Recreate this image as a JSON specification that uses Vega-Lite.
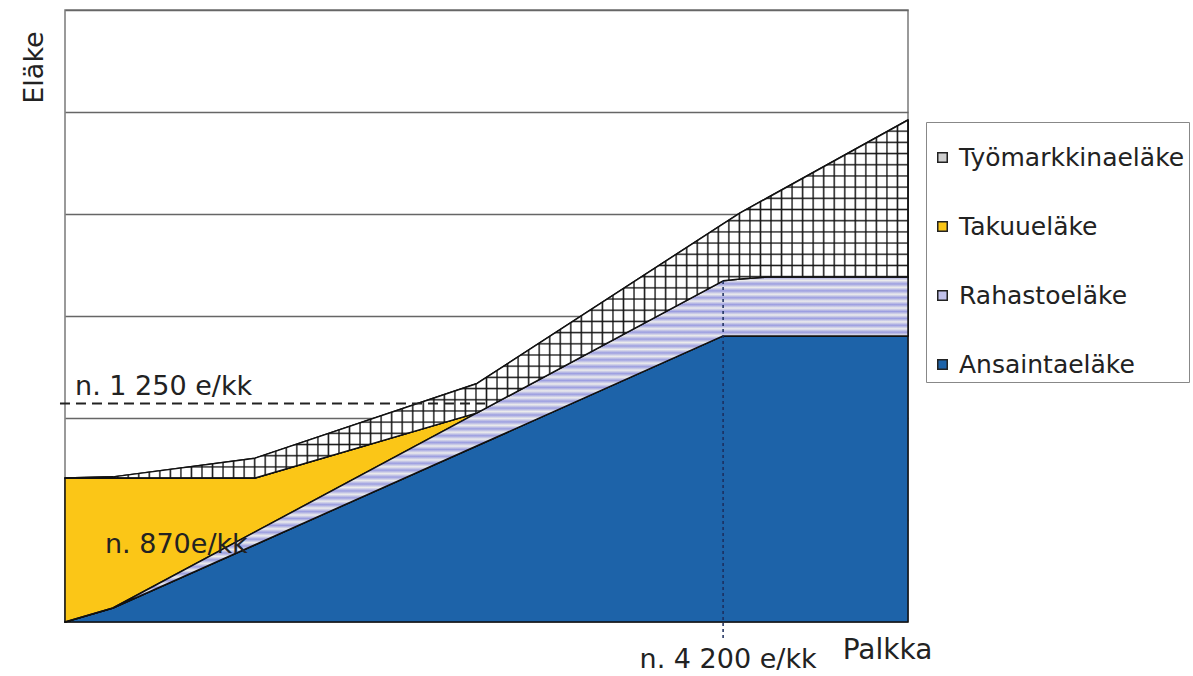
{
"$schema": "https://vega.github.io/schema/vega-lite/v6.json",
"width": 843,
"height": 612,
"autosize": {"type": "none"},
"padding": {"left": 65, "top": 10, "right": 285, "bottom": 54},
"background": "white",
"config": {"view": {"stroke": "#7a7a7a", "strokeWidth": 1.5}, "font": "DejaVu Sans"},
"datasets": {
"pension": [
{"palkka": 0, "laji": "Ansaintaeläke", "order": 1, "elake": 0},
{"palkka": 0, "laji": "Rahastoeläke", "order": 2, "elake": 0},
{"palkka": 0, "laji": "Takuueläke", "order": 3, "elake": 824},
{"palkka": 0, "laji": "Työmarkkinaeläke", "order": 4, "elake": 0},
{"palkka": 306, "laji": "Ansaintaeläke", "order": 1, "elake": 80},
{"palkka": 306, "laji": "Rahastoeläke", "order": 2, "elake": 0},
{"palkka": 306, "laji": "Takuueläke", "order": 3, "elake": 744},
{"palkka": 306, "laji": "Työmarkkinaeläke", "order": 4, "elake": 6},
{"palkka": 1213, "laji": "Ansaintaeläke", "order": 1, "elake": 442},
{"palkka": 1213, "laji": "Rahastoeläke", "order": 2, "elake": 73},
{"palkka": 1213, "laji": "Takuueläke", "order": 3, "elake": 308},
{"palkka": 1213, "laji": "Työmarkkinaeläke", "order": 4, "elake": 114},
{"palkka": 2630, "laji": "Ansaintaeläke", "order": 1, "elake": 1008},
{"palkka": 2630, "laji": "Rahastoeläke", "order": 2, "elake": 188},
{"palkka": 2630, "laji": "Takuueläke", "order": 3, "elake": 0},
{"palkka": 2630, "laji": "Työmarkkinaeläke", "order": 4, "elake": 168},
{"palkka": 4200, "laji": "Ansaintaeläke", "order": 1, "elake": 1636},
{"palkka": 4200, "laji": "Rahastoeläke", "order": 2, "elake": 315},
{"palkka": 4200, "laji": "Takuueläke", "order": 3, "elake": 0},
{"palkka": 4200, "laji": "Työmarkkinaeläke", "order": 4, "elake": 326},
{"palkka": 4309, "laji": "Ansaintaeläke", "order": 1, "elake": 1636},
{"palkka": 4309, "laji": "Rahastoeläke", "order": 2, "elake": 326},
{"palkka": 4309, "laji": "Takuueläke", "order": 3, "elake": 0},
{"palkka": 4309, "laji": "Työmarkkinaeläke", "order": 4, "elake": 378},
{"palkka": 4481, "laji": "Ansaintaeläke", "order": 1, "elake": 1636},
{"palkka": 4481, "laji": "Rahastoeläke", "order": 2, "elake": 337},
{"palkka": 4481, "laji": "Takuueläke", "order": 3, "elake": 0},
{"palkka": 4481, "laji": "Työmarkkinaeläke", "order": 4, "elake": 452},
{"palkka": 5380, "laji": "Ansaintaeläke", "order": 1, "elake": 1636},
{"palkka": 5380, "laji": "Rahastoeläke", "order": 2, "elake": 337},
{"palkka": 5380, "laji": "Takuueläke", "order": 3, "elake": 0},
{"palkka": 5380, "laji": "Työmarkkinaeläke", "order": 4, "elake": 898}
]
},
"layer": [
{
"data": {"name": "pension"},
"transform": [{"stack": "elake", "groupby": ["palkka"], "sort": [{"field": "order", "order": "ascending"}], "as": ["lo", "hi"]}],
"mark": {"type": "area", "stroke": "#111", "strokeWidth": 1.5, "strokeJoin": "round", "fillOpacity": 1},
"encoding": {
"x": {"field": "palkka", "type": "quantitative", "title": "Palkka", "scale": {"domain": [0, 5380], "nice": false, "zero": false},
"axis": {"labels": false, "ticks": false, "domain": false, "grid": false, "titleFont": "DejaVu Sans", "titleFontSize": 28, "titleFontWeight": "normal", "titleColor": "#222", "titleX": 822, "titleY": 36, "titleAlign": "center", "titleBaseline": "alphabetic"}},
"y": {"field": "hi", "type": "quantitative", "title": "Eläke", "scale": {"domain": [0, 3500], "nice": false},
"axis": {"labels": false, "ticks": false, "domain": false, "grid": true, "values": [583.33, 1166.67, 1750, 2333.33, 2916.67, 3500], "gridColor": "#666", "gridWidth": 1.5, "titleFont": "DejaVu Sans", "titleFontSize": 27, "titleFontWeight": "normal", "titleColor": "#222", "titleX": -31, "titleY": 57, "titleAngle": 270, "titleAlign": "center", "titleBaseline": "middle"}},
"y2": {"field": "lo"},
"color": {"field": "laji", "type": "nominal",
"scale": {"domain": ["Työmarkkinaeläke", "Takuueläke", "Rahastoeläke", "Ansaintaeläke"], "range": ["#cfcfcf", "#fbc617", "#c2c2ec", "#1d63a9"]},
"legend": {"title": " ", "titleFontSize": 15, "titlePadding": 4, "orient": "none", "legendX": 861, "legendY": 112, "padding": 4, "strokeColor": "#888", "fillColor": "white", "labelFont": "DejaVu Sans", "labelFontSize": 25, "labelColor": "#222", "labelLimit": 400, "symbolType": "square", "symbolSize": 90, "symbolStrokeColor": "#222", "symbolStrokeWidth": 1.5, "symbolOpacity": 1, "rowPadding": 43, "labelOffset": 4}}
}
},
{
"data": {"name": "pension"},
"transform": [{"stack": "elake", "groupby": ["palkka"], "sort": [{"field": "order", "order": "ascending"}], "as": ["lo", "hi"]}, {"filter": {"field": "laji", "equal": "Rahastoeläke"}}],
"mark": {"type": "area", "stroke": "#111", "strokeWidth": 1.5, "strokeJoin": "round",
"fill": {"gradient": "linear", "x1": 0, "y1": 0, "x2": 0, "y2": 1, "stops": [
{"offset":0,"color":"#9c9ee0"},{"offset":0.01,"color":"#ececec"},{"offset":0.02,"color":"#9c9ee0"},{"offset":0.03,"color":"#ececec"},{"offset":0.04,"color":"#9c9ee0"},{"offset":0.05,"color":"#ececec"},{"offset":0.06,"color":"#9c9ee0"},{"offset":0.07,"color":"#ececec"},{"offset":0.08,"color":"#9c9ee0"},{"offset":0.09,"color":"#ececec"},
{"offset":0.1,"color":"#9c9ee0"},{"offset":0.11,"color":"#ececec"},{"offset":0.12,"color":"#9c9ee0"},{"offset":0.13,"color":"#ececec"},{"offset":0.14,"color":"#9c9ee0"},{"offset":0.15,"color":"#ececec"},{"offset":0.16,"color":"#9c9ee0"},{"offset":0.17,"color":"#ececec"},{"offset":0.18,"color":"#9c9ee0"},{"offset":0.19,"color":"#ececec"},
{"offset":0.2,"color":"#9c9ee0"},{"offset":0.21,"color":"#ececec"},{"offset":0.22,"color":"#9c9ee0"},{"offset":0.23,"color":"#ececec"},{"offset":0.24,"color":"#9c9ee0"},{"offset":0.25,"color":"#ececec"},{"offset":0.26,"color":"#9c9ee0"},{"offset":0.27,"color":"#ececec"},{"offset":0.28,"color":"#9c9ee0"},{"offset":0.29,"color":"#ececec"},
{"offset":0.3,"color":"#9c9ee0"},{"offset":0.31,"color":"#ececec"},{"offset":0.32,"color":"#9c9ee0"},{"offset":0.33,"color":"#ececec"},{"offset":0.34,"color":"#9c9ee0"},{"offset":0.35,"color":"#ececec"},{"offset":0.36,"color":"#9c9ee0"},{"offset":0.37,"color":"#ececec"},{"offset":0.38,"color":"#9c9ee0"},{"offset":0.39,"color":"#ececec"},
{"offset":0.4,"color":"#9c9ee0"},{"offset":0.41,"color":"#ececec"},{"offset":0.42,"color":"#9c9ee0"},{"offset":0.43,"color":"#ececec"},{"offset":0.44,"color":"#9c9ee0"},{"offset":0.45,"color":"#ececec"},{"offset":0.46,"color":"#9c9ee0"},{"offset":0.47,"color":"#ececec"},{"offset":0.48,"color":"#9c9ee0"},{"offset":0.49,"color":"#ececec"},
{"offset":0.5,"color":"#9c9ee0"},{"offset":0.51,"color":"#ececec"},{"offset":0.52,"color":"#9c9ee0"},{"offset":0.53,"color":"#ececec"},{"offset":0.54,"color":"#9c9ee0"},{"offset":0.55,"color":"#ececec"},{"offset":0.56,"color":"#9c9ee0"},{"offset":0.57,"color":"#ececec"},{"offset":0.58,"color":"#9c9ee0"},{"offset":0.59,"color":"#ececec"},
{"offset":0.6,"color":"#9c9ee0"},{"offset":0.61,"color":"#ececec"},{"offset":0.62,"color":"#9c9ee0"},{"offset":0.63,"color":"#ececec"},{"offset":0.64,"color":"#9c9ee0"},{"offset":0.65,"color":"#ececec"},{"offset":0.66,"color":"#9c9ee0"},{"offset":0.67,"color":"#ececec"},{"offset":0.68,"color":"#9c9ee0"},{"offset":0.69,"color":"#ececec"},
{"offset":0.7,"color":"#9c9ee0"},{"offset":0.71,"color":"#ececec"},{"offset":0.72,"color":"#9c9ee0"},{"offset":0.73,"color":"#ececec"},{"offset":0.74,"color":"#9c9ee0"},{"offset":0.75,"color":"#ececec"},{"offset":0.76,"color":"#9c9ee0"},{"offset":0.77,"color":"#ececec"},{"offset":0.78,"color":"#9c9ee0"},{"offset":0.79,"color":"#ececec"},
{"offset":0.8,"color":"#9c9ee0"},{"offset":0.81,"color":"#ececec"},{"offset":0.82,"color":"#9c9ee0"},{"offset":0.83,"color":"#ececec"},{"offset":0.84,"color":"#9c9ee0"},{"offset":0.85,"color":"#ececec"},{"offset":0.86,"color":"#9c9ee0"},{"offset":0.87,"color":"#ececec"},{"offset":0.88,"color":"#9c9ee0"},{"offset":0.89,"color":"#ececec"},
{"offset":0.9,"color":"#9c9ee0"},{"offset":0.91,"color":"#ececec"},{"offset":0.92,"color":"#9c9ee0"},{"offset":0.93,"color":"#ececec"},{"offset":0.94,"color":"#9c9ee0"},{"offset":0.95,"color":"#ececec"},{"offset":0.96,"color":"#9c9ee0"},{"offset":0.97,"color":"#ececec"},{"offset":0.98,"color":"#9c9ee0"},{"offset":0.99,"color":"#ececec"},
{"offset":1,"color":"#9c9ee0"}
]}},
"encoding": {
"x": {"field": "palkka", "type": "quantitative", "title": "Palkka", "scale": {"domain": [0, 5380], "nice": false, "zero": false}},
"y": {"field": "hi", "type": "quantitative", "title": "Eläke", "scale": {"domain": [0, 3500], "nice": false}},
"y2": {"field": "lo"}
}
},
{
"data": {"name": "pension"},
"transform": [{"stack": "elake", "groupby": ["palkka"], "sort": [{"field": "order", "order": "ascending"}], "as": ["lo", "hi"]}, {"filter": {"field": "laji", "equal": "Työmarkkinaeläke"}}],
"mark": {"type": "area", "strokeWidth": 0,
"fill": {"gradient": "linear", "x1": 0, "y1": 0, "x2": 0, "y2": 1, "stops": [
{"offset":0,"color":"#1a1a1a"},{"offset":0.004,"color":"#fff"},
{"offset":0.02725,"color":"#fff"},{"offset":0.03125,"color":"#1a1a1a"},{"offset":0.03525,"color":"#fff"},
{"offset":0.0585,"color":"#fff"},{"offset":0.0625,"color":"#1a1a1a"},{"offset":0.0665,"color":"#fff"},
{"offset":0.08975,"color":"#fff"},{"offset":0.09375,"color":"#1a1a1a"},{"offset":0.09775,"color":"#fff"},
{"offset":0.121,"color":"#fff"},{"offset":0.125,"color":"#1a1a1a"},{"offset":0.129,"color":"#fff"},
{"offset":0.15225,"color":"#fff"},{"offset":0.15625,"color":"#1a1a1a"},{"offset":0.16025,"color":"#fff"},
{"offset":0.1835,"color":"#fff"},{"offset":0.1875,"color":"#1a1a1a"},{"offset":0.1915,"color":"#fff"},
{"offset":0.21475,"color":"#fff"},{"offset":0.21875,"color":"#1a1a1a"},{"offset":0.22275,"color":"#fff"},
{"offset":0.246,"color":"#fff"},{"offset":0.25,"color":"#1a1a1a"},{"offset":0.254,"color":"#fff"},
{"offset":0.27725,"color":"#fff"},{"offset":0.28125,"color":"#1a1a1a"},{"offset":0.28525,"color":"#fff"},
{"offset":0.3085,"color":"#fff"},{"offset":0.3125,"color":"#1a1a1a"},{"offset":0.3165,"color":"#fff"},
{"offset":0.33975,"color":"#fff"},{"offset":0.34375,"color":"#1a1a1a"},{"offset":0.34775,"color":"#fff"},
{"offset":0.371,"color":"#fff"},{"offset":0.375,"color":"#1a1a1a"},{"offset":0.379,"color":"#fff"},
{"offset":0.40225,"color":"#fff"},{"offset":0.40625,"color":"#1a1a1a"},{"offset":0.41025,"color":"#fff"},
{"offset":0.4335,"color":"#fff"},{"offset":0.4375,"color":"#1a1a1a"},{"offset":0.4415,"color":"#fff"},
{"offset":0.46475,"color":"#fff"},{"offset":0.46875,"color":"#1a1a1a"},{"offset":0.47275,"color":"#fff"},
{"offset":0.496,"color":"#fff"},{"offset":0.5,"color":"#1a1a1a"},{"offset":0.504,"color":"#fff"},
{"offset":0.52725,"color":"#fff"},{"offset":0.53125,"color":"#1a1a1a"},{"offset":0.53525,"color":"#fff"},
{"offset":0.5585,"color":"#fff"},{"offset":0.5625,"color":"#1a1a1a"},{"offset":0.5665,"color":"#fff"},
{"offset":0.58975,"color":"#fff"},{"offset":0.59375,"color":"#1a1a1a"},{"offset":0.59775,"color":"#fff"},
{"offset":0.621,"color":"#fff"},{"offset":0.625,"color":"#1a1a1a"},{"offset":0.629,"color":"#fff"},
{"offset":0.65225,"color":"#fff"},{"offset":0.65625,"color":"#1a1a1a"},{"offset":0.66025,"color":"#fff"},
{"offset":0.6835,"color":"#fff"},{"offset":0.6875,"color":"#1a1a1a"},{"offset":0.6915,"color":"#fff"},
{"offset":0.71475,"color":"#fff"},{"offset":0.71875,"color":"#1a1a1a"},{"offset":0.72275,"color":"#fff"},
{"offset":0.746,"color":"#fff"},{"offset":0.75,"color":"#1a1a1a"},{"offset":0.754,"color":"#fff"},
{"offset":0.77725,"color":"#fff"},{"offset":0.78125,"color":"#1a1a1a"},{"offset":0.78525,"color":"#fff"},
{"offset":0.8085,"color":"#fff"},{"offset":0.8125,"color":"#1a1a1a"},{"offset":0.8165,"color":"#fff"},
{"offset":0.83975,"color":"#fff"},{"offset":0.84375,"color":"#1a1a1a"},{"offset":0.84775,"color":"#fff"},
{"offset":0.871,"color":"#fff"},{"offset":0.875,"color":"#1a1a1a"},{"offset":0.879,"color":"#fff"},
{"offset":0.90225,"color":"#fff"},{"offset":0.90625,"color":"#1a1a1a"},{"offset":0.91025,"color":"#fff"},
{"offset":0.9335,"color":"#fff"},{"offset":0.9375,"color":"#1a1a1a"},{"offset":0.9415,"color":"#fff"},
{"offset":0.96475,"color":"#fff"},{"offset":0.96875,"color":"#1a1a1a"},{"offset":0.97275,"color":"#fff"},
{"offset":0.996,"color":"#fff"},{"offset":1,"color":"#1a1a1a"}
]}},
"encoding": {
"x": {"field": "palkka", "type": "quantitative", "title": "Palkka", "scale": {"domain": [0, 5380], "nice": false, "zero": false}},
"y": {"field": "hi", "type": "quantitative", "title": "Eläke", "scale": {"domain": [0, 3500], "nice": false}},
"y2": {"field": "lo"}
}
},
{
"data": {"name": "pension"},
"transform": [{"stack": "elake", "groupby": ["palkka"], "sort": [{"field": "order", "order": "ascending"}], "as": ["lo", "hi"]}, {"filter": {"field": "laji", "equal": "Työmarkkinaeläke"}}],
"mark": {"type": "area", "stroke": "#111", "strokeWidth": 1.5, "strokeJoin": "round",
"fill": {"gradient": "linear", "x1": 0, "y1": 0, "x2": 1, "y2": 0, "stops": [
{"offset":0,"color":"#1a1a1a"},{"offset":0.0017,"color":"#0000"},
{"offset":0.0108,"color":"#0000"},{"offset":0.0125,"color":"#1a1a1a"},{"offset":0.0142,"color":"#0000"},
{"offset":0.0233,"color":"#0000"},{"offset":0.025,"color":"#1a1a1a"},{"offset":0.0267,"color":"#0000"},
{"offset":0.0358,"color":"#0000"},{"offset":0.0375,"color":"#1a1a1a"},{"offset":0.0392,"color":"#0000"},
{"offset":0.0483,"color":"#0000"},{"offset":0.05,"color":"#1a1a1a"},{"offset":0.0517,"color":"#0000"},
{"offset":0.0608,"color":"#0000"},{"offset":0.0625,"color":"#1a1a1a"},{"offset":0.0642,"color":"#0000"},
{"offset":0.0733,"color":"#0000"},{"offset":0.075,"color":"#1a1a1a"},{"offset":0.0767,"color":"#0000"},
{"offset":0.0858,"color":"#0000"},{"offset":0.0875,"color":"#1a1a1a"},{"offset":0.0892,"color":"#0000"},
{"offset":0.0983,"color":"#0000"},{"offset":0.1,"color":"#1a1a1a"},{"offset":0.1017,"color":"#0000"},
{"offset":0.1108,"color":"#0000"},{"offset":0.1125,"color":"#1a1a1a"},{"offset":0.1142,"color":"#0000"},
{"offset":0.1233,"color":"#0000"},{"offset":0.125,"color":"#1a1a1a"},{"offset":0.1267,"color":"#0000"},
{"offset":0.1358,"color":"#0000"},{"offset":0.1375,"color":"#1a1a1a"},{"offset":0.1392,"color":"#0000"},
{"offset":0.1483,"color":"#0000"},{"offset":0.15,"color":"#1a1a1a"},{"offset":0.1517,"color":"#0000"},
{"offset":0.1608,"color":"#0000"},{"offset":0.1625,"color":"#1a1a1a"},{"offset":0.1642,"color":"#0000"},
{"offset":0.1733,"color":"#0000"},{"offset":0.175,"color":"#1a1a1a"},{"offset":0.1767,"color":"#0000"},
{"offset":0.1858,"color":"#0000"},{"offset":0.1875,"color":"#1a1a1a"},{"offset":0.1892,"color":"#0000"},
{"offset":0.1983,"color":"#0000"},{"offset":0.2,"color":"#1a1a1a"},{"offset":0.2017,"color":"#0000"},
{"offset":0.2108,"color":"#0000"},{"offset":0.2125,"color":"#1a1a1a"},{"offset":0.2142,"color":"#0000"},
{"offset":0.2233,"color":"#0000"},{"offset":0.225,"color":"#1a1a1a"},{"offset":0.2267,"color":"#0000"},
{"offset":0.2358,"color":"#0000"},{"offset":0.2375,"color":"#1a1a1a"},{"offset":0.2392,"color":"#0000"},
{"offset":0.2483,"color":"#0000"},{"offset":0.25,"color":"#1a1a1a"},{"offset":0.2517,"color":"#0000"},
{"offset":0.2608,"color":"#0000"},{"offset":0.2625,"color":"#1a1a1a"},{"offset":0.2642,"color":"#0000"},
{"offset":0.2733,"color":"#0000"},{"offset":0.275,"color":"#1a1a1a"},{"offset":0.2767,"color":"#0000"},
{"offset":0.2858,"color":"#0000"},{"offset":0.2875,"color":"#1a1a1a"},{"offset":0.2892,"color":"#0000"},
{"offset":0.2983,"color":"#0000"},{"offset":0.3,"color":"#1a1a1a"},{"offset":0.3017,"color":"#0000"},
{"offset":0.3108,"color":"#0000"},{"offset":0.3125,"color":"#1a1a1a"},{"offset":0.3142,"color":"#0000"},
{"offset":0.3233,"color":"#0000"},{"offset":0.325,"color":"#1a1a1a"},{"offset":0.3267,"color":"#0000"},
{"offset":0.3358,"color":"#0000"},{"offset":0.3375,"color":"#1a1a1a"},{"offset":0.3392,"color":"#0000"},
{"offset":0.3483,"color":"#0000"},{"offset":0.35,"color":"#1a1a1a"},{"offset":0.3517,"color":"#0000"},
{"offset":0.3608,"color":"#0000"},{"offset":0.3625,"color":"#1a1a1a"},{"offset":0.3642,"color":"#0000"},
{"offset":0.3733,"color":"#0000"},{"offset":0.375,"color":"#1a1a1a"},{"offset":0.3767,"color":"#0000"},
{"offset":0.3858,"color":"#0000"},{"offset":0.3875,"color":"#1a1a1a"},{"offset":0.3892,"color":"#0000"},
{"offset":0.3983,"color":"#0000"},{"offset":0.4,"color":"#1a1a1a"},{"offset":0.4017,"color":"#0000"},
{"offset":0.4108,"color":"#0000"},{"offset":0.4125,"color":"#1a1a1a"},{"offset":0.4142,"color":"#0000"},
{"offset":0.4233,"color":"#0000"},{"offset":0.425,"color":"#1a1a1a"},{"offset":0.4267,"color":"#0000"},
{"offset":0.4358,"color":"#0000"},{"offset":0.4375,"color":"#1a1a1a"},{"offset":0.4392,"color":"#0000"},
{"offset":0.4483,"color":"#0000"},{"offset":0.45,"color":"#1a1a1a"},{"offset":0.4517,"color":"#0000"},
{"offset":0.4608,"color":"#0000"},{"offset":0.4625,"color":"#1a1a1a"},{"offset":0.4642,"color":"#0000"},
{"offset":0.4733,"color":"#0000"},{"offset":0.475,"color":"#1a1a1a"},{"offset":0.4767,"color":"#0000"},
{"offset":0.4858,"color":"#0000"},{"offset":0.4875,"color":"#1a1a1a"},{"offset":0.4892,"color":"#0000"},
{"offset":0.4983,"color":"#0000"},{"offset":0.5,"color":"#1a1a1a"},{"offset":0.5017,"color":"#0000"},
{"offset":0.5108,"color":"#0000"},{"offset":0.5125,"color":"#1a1a1a"},{"offset":0.5142,"color":"#0000"},
{"offset":0.5233,"color":"#0000"},{"offset":0.525,"color":"#1a1a1a"},{"offset":0.5267,"color":"#0000"},
{"offset":0.5358,"color":"#0000"},{"offset":0.5375,"color":"#1a1a1a"},{"offset":0.5392,"color":"#0000"},
{"offset":0.5483,"color":"#0000"},{"offset":0.55,"color":"#1a1a1a"},{"offset":0.5517,"color":"#0000"},
{"offset":0.5608,"color":"#0000"},{"offset":0.5625,"color":"#1a1a1a"},{"offset":0.5642,"color":"#0000"},
{"offset":0.5733,"color":"#0000"},{"offset":0.575,"color":"#1a1a1a"},{"offset":0.5767,"color":"#0000"},
{"offset":0.5858,"color":"#0000"},{"offset":0.5875,"color":"#1a1a1a"},{"offset":0.5892,"color":"#0000"},
{"offset":0.5983,"color":"#0000"},{"offset":0.6,"color":"#1a1a1a"},{"offset":0.6017,"color":"#0000"},
{"offset":0.6108,"color":"#0000"},{"offset":0.6125,"color":"#1a1a1a"},{"offset":0.6142,"color":"#0000"},
{"offset":0.6233,"color":"#0000"},{"offset":0.625,"color":"#1a1a1a"},{"offset":0.6267,"color":"#0000"},
{"offset":0.6358,"color":"#0000"},{"offset":0.6375,"color":"#1a1a1a"},{"offset":0.6392,"color":"#0000"},
{"offset":0.6483,"color":"#0000"},{"offset":0.65,"color":"#1a1a1a"},{"offset":0.6517,"color":"#0000"},
{"offset":0.6608,"color":"#0000"},{"offset":0.6625,"color":"#1a1a1a"},{"offset":0.6642,"color":"#0000"},
{"offset":0.6733,"color":"#0000"},{"offset":0.675,"color":"#1a1a1a"},{"offset":0.6767,"color":"#0000"},
{"offset":0.6858,"color":"#0000"},{"offset":0.6875,"color":"#1a1a1a"},{"offset":0.6892,"color":"#0000"},
{"offset":0.6983,"color":"#0000"},{"offset":0.7,"color":"#1a1a1a"},{"offset":0.7017,"color":"#0000"},
{"offset":0.7108,"color":"#0000"},{"offset":0.7125,"color":"#1a1a1a"},{"offset":0.7142,"color":"#0000"},
{"offset":0.7233,"color":"#0000"},{"offset":0.725,"color":"#1a1a1a"},{"offset":0.7267,"color":"#0000"},
{"offset":0.7358,"color":"#0000"},{"offset":0.7375,"color":"#1a1a1a"},{"offset":0.7392,"color":"#0000"},
{"offset":0.7483,"color":"#0000"},{"offset":0.75,"color":"#1a1a1a"},{"offset":0.7517,"color":"#0000"},
{"offset":0.7608,"color":"#0000"},{"offset":0.7625,"color":"#1a1a1a"},{"offset":0.7642,"color":"#0000"},
{"offset":0.7733,"color":"#0000"},{"offset":0.775,"color":"#1a1a1a"},{"offset":0.7767,"color":"#0000"},
{"offset":0.7858,"color":"#0000"},{"offset":0.7875,"color":"#1a1a1a"},{"offset":0.7892,"color":"#0000"},
{"offset":0.7983,"color":"#0000"},{"offset":0.8,"color":"#1a1a1a"},{"offset":0.8017,"color":"#0000"},
{"offset":0.8108,"color":"#0000"},{"offset":0.8125,"color":"#1a1a1a"},{"offset":0.8142,"color":"#0000"},
{"offset":0.8233,"color":"#0000"},{"offset":0.825,"color":"#1a1a1a"},{"offset":0.8267,"color":"#0000"},
{"offset":0.8358,"color":"#0000"},{"offset":0.8375,"color":"#1a1a1a"},{"offset":0.8392,"color":"#0000"},
{"offset":0.8483,"color":"#0000"},{"offset":0.85,"color":"#1a1a1a"},{"offset":0.8517,"color":"#0000"},
{"offset":0.8608,"color":"#0000"},{"offset":0.8625,"color":"#1a1a1a"},{"offset":0.8642,"color":"#0000"},
{"offset":0.8733,"color":"#0000"},{"offset":0.875,"color":"#1a1a1a"},{"offset":0.8767,"color":"#0000"},
{"offset":0.8858,"color":"#0000"},{"offset":0.8875,"color":"#1a1a1a"},{"offset":0.8892,"color":"#0000"},
{"offset":0.8983,"color":"#0000"},{"offset":0.9,"color":"#1a1a1a"},{"offset":0.9017,"color":"#0000"},
{"offset":0.9108,"color":"#0000"},{"offset":0.9125,"color":"#1a1a1a"},{"offset":0.9142,"color":"#0000"},
{"offset":0.9233,"color":"#0000"},{"offset":0.925,"color":"#1a1a1a"},{"offset":0.9267,"color":"#0000"},
{"offset":0.9358,"color":"#0000"},{"offset":0.9375,"color":"#1a1a1a"},{"offset":0.9392,"color":"#0000"},
{"offset":0.9483,"color":"#0000"},{"offset":0.95,"color":"#1a1a1a"},{"offset":0.9517,"color":"#0000"},
{"offset":0.9608,"color":"#0000"},{"offset":0.9625,"color":"#1a1a1a"},{"offset":0.9642,"color":"#0000"},
{"offset":0.9733,"color":"#0000"},{"offset":0.975,"color":"#1a1a1a"},{"offset":0.9767,"color":"#0000"},
{"offset":0.9858,"color":"#0000"},{"offset":0.9875,"color":"#1a1a1a"},{"offset":0.9892,"color":"#0000"},
{"offset":0.9983,"color":"#0000"},{"offset":1,"color":"#1a1a1a"}
]}},
"encoding": {
"x": {"field": "palkka", "type": "quantitative", "title": "Palkka", "scale": {"domain": [0, 5380], "nice": false, "zero": false}},
"y": {"field": "hi", "type": "quantitative", "title": "Eläke", "scale": {"domain": [0, 3500], "nice": false}},
"y2": {"field": "lo"}
}
},
{
"data": {"values": [{"palkka": -32, "palkka2": 2681, "hi": 1250}]},
"mark": {"type": "rule", "color": "#222", "strokeWidth": 2, "strokeDash": [10, 6]},
"encoding": {
"x": {"field": "palkka", "type": "quantitative", "title": "Palkka", "scale": {"domain": [0, 5380], "nice": false, "zero": false}},
"x2": {"field": "palkka2"},
"y": {"field": "hi", "type": "quantitative", "title": "Eläke", "scale": {"domain": [0, 3500], "nice": false}}
}
},
{
"data": {"values": [{"palkka": 4200, "hi": -91, "lo": 1951}]},
"mark": {"type": "rule", "color": "#1b2d5c", "strokeWidth": 1.5, "strokeDash": [3, 3]},
"encoding": {
"x": {"field": "palkka", "type": "quantitative", "title": "Palkka", "scale": {"domain": [0, 5380], "nice": false, "zero": false}},
"y": {"field": "hi", "type": "quantitative", "title": "Eläke", "scale": {"domain": [0, 3500], "nice": false}},
"y2": {"field": "lo"}
}
},
{
"data": {"values": [{"palkka": 64, "hi": 1298, "teksti": "n. 1 250 e/kk"}, {"palkka": 255, "hi": 395, "teksti": "n. 870e/kk"}]},
"mark": {"type": "text", "font": "DejaVu Sans", "fontSize": 27, "align": "left", "baseline": "alphabetic", "color": "#222"},
"encoding": {
"x": {"field": "palkka", "type": "quantitative", "title": "Palkka", "scale": {"domain": [0, 5380], "nice": false, "zero": false}},
"y": {"field": "hi", "type": "quantitative", "title": "Eläke", "scale": {"domain": [0, 3500], "nice": false}},
"text": {"field": "teksti"}
}
},
{
"data": {"values": [{"palkka": 4232, "hi": -263, "teksti": "n. 4 200 e/kk"}]},
"mark": {"type": "text", "font": "DejaVu Sans", "fontSize": 27, "align": "center", "baseline": "alphabetic", "color": "#222"},
"encoding": {
"x": {"field": "palkka", "type": "quantitative", "title": "Palkka", "scale": {"domain": [0, 5380], "nice": false, "zero": false}},
"y": {"field": "hi", "type": "quantitative", "title": "Eläke", "scale": {"domain": [0, 3500], "nice": false}},
"text": {"field": "teksti"}
}
}
]
}
